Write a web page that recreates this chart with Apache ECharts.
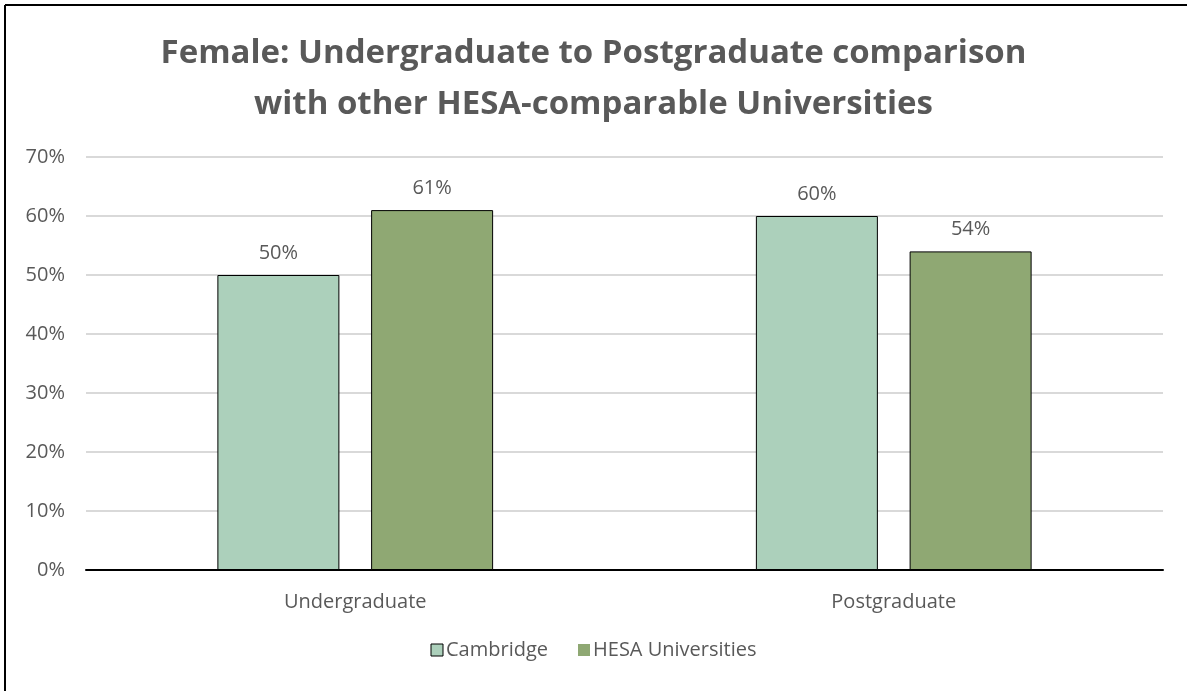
<!DOCTYPE html>
<html>
<head>
<meta charset="utf-8">
<script src="https://cdn.jsdelivr.net/npm/echarts@6/dist/echarts.min.js"></script>
<style>
html,body{margin:0;padding:0;background:#fff;}
#chart{width:1187px;height:691px;}
</style>
</head>
<body>
<div id="chart"></div>
<script>
const titleLines = ['Female: Undergraduate to Postgraduate comparison', 'with other HESA-comparable Universities'];
const categories = ['Undergraduate', 'Postgraduate'];
const seriesNames = ['Cambridge', 'HESA Universities'];
const cambridge = [50, 60];
const hesa = [61, 54];
const yTicks = [0, 10, 20, 30, 40, 50, 60, 70];

const colors = ['#acd0bb', '#8fa873'];
const font = '"Open Sans", "Noto Sans", sans-serif';
const chart = echarts.init(document.getElementById('chart'), null, {renderer: 'canvas'});
chart.setOption({
  animation: false,
  textStyle: {fontFamily: font},
  title: {
    text: titleLines.join('\n'),
    left: 'center',
    top: 23,
    textStyle: {fontSize: 33, fontWeight: 'bold', color: '#595959', lineHeight: 51, fontFamily: font}
  },
  graphic: [
    {type: 'line', shape: {x1: 5, y1: 5, x2: 1187, y2: 5}, style: {stroke: '#000', lineWidth: 2}},
    {type: 'line', shape: {x1: 5, y1: 5, x2: 5, y2: 691}, style: {stroke: '#000', lineWidth: 2}}
  ],
  legend: {
    bottom: 26,
    left: 'center',
    itemWidth: 12,
    itemHeight: 12,
    itemGap: 30,
    textStyle: {fontSize: 20, color: '#595959', padding: [0, 0, 0, -2]},
    data: [
      {name: seriesNames[0], icon: 'rect', itemStyle: {borderColor: '#000', borderWidth: 1}},
      {name: seriesNames[1], icon: 'rect', itemStyle: {borderWidth: 0}}
    ]
  },
  grid: {left: 86, right: 24, top: 157, bottom: 121, containLabel: false},
  xAxis: {
    type: 'category',
    data: categories,
    axisLine: {lineStyle: {color: '#000', width: 2}},
    axisTick: {show: false},
    axisLabel: {fontSize: 20, color: '#595959', margin: 22}
  },
  yAxis: {
    type: 'value',
    min: yTicks[0],
    max: yTicks[yTicks.length - 1],
    interval: 10,
    axisLine: {show: false},
    axisTick: {show: false},
    splitLine: {lineStyle: {color: '#d9d9d9', width: 2}},
    axisLabel: {fontSize: 20, color: '#595959', margin: 21, formatter: v => v + '%'}
  },
  series: [
    {
      name: seriesNames[0], type: 'bar', data: cambridge,
      barWidth: 122, barGap: '26%',
      itemStyle: {color: colors[0], borderColor: '#000', borderWidth: 1},
      label: {show: true, position: 'top', distance: 12, fontSize: 20, color: '#595959', formatter: p => p.value + '%'}
    },
    {
      name: seriesNames[1], type: 'bar', data: hesa,
      barWidth: 122, barGap: '26%',
      itemStyle: {color: colors[1], borderColor: '#000', borderWidth: 1},
      label: {show: true, position: 'top', distance: 12, fontSize: 20, color: '#595959', formatter: p => p.value + '%'}
    }
  ]
});
</script>
</body>
</html>
